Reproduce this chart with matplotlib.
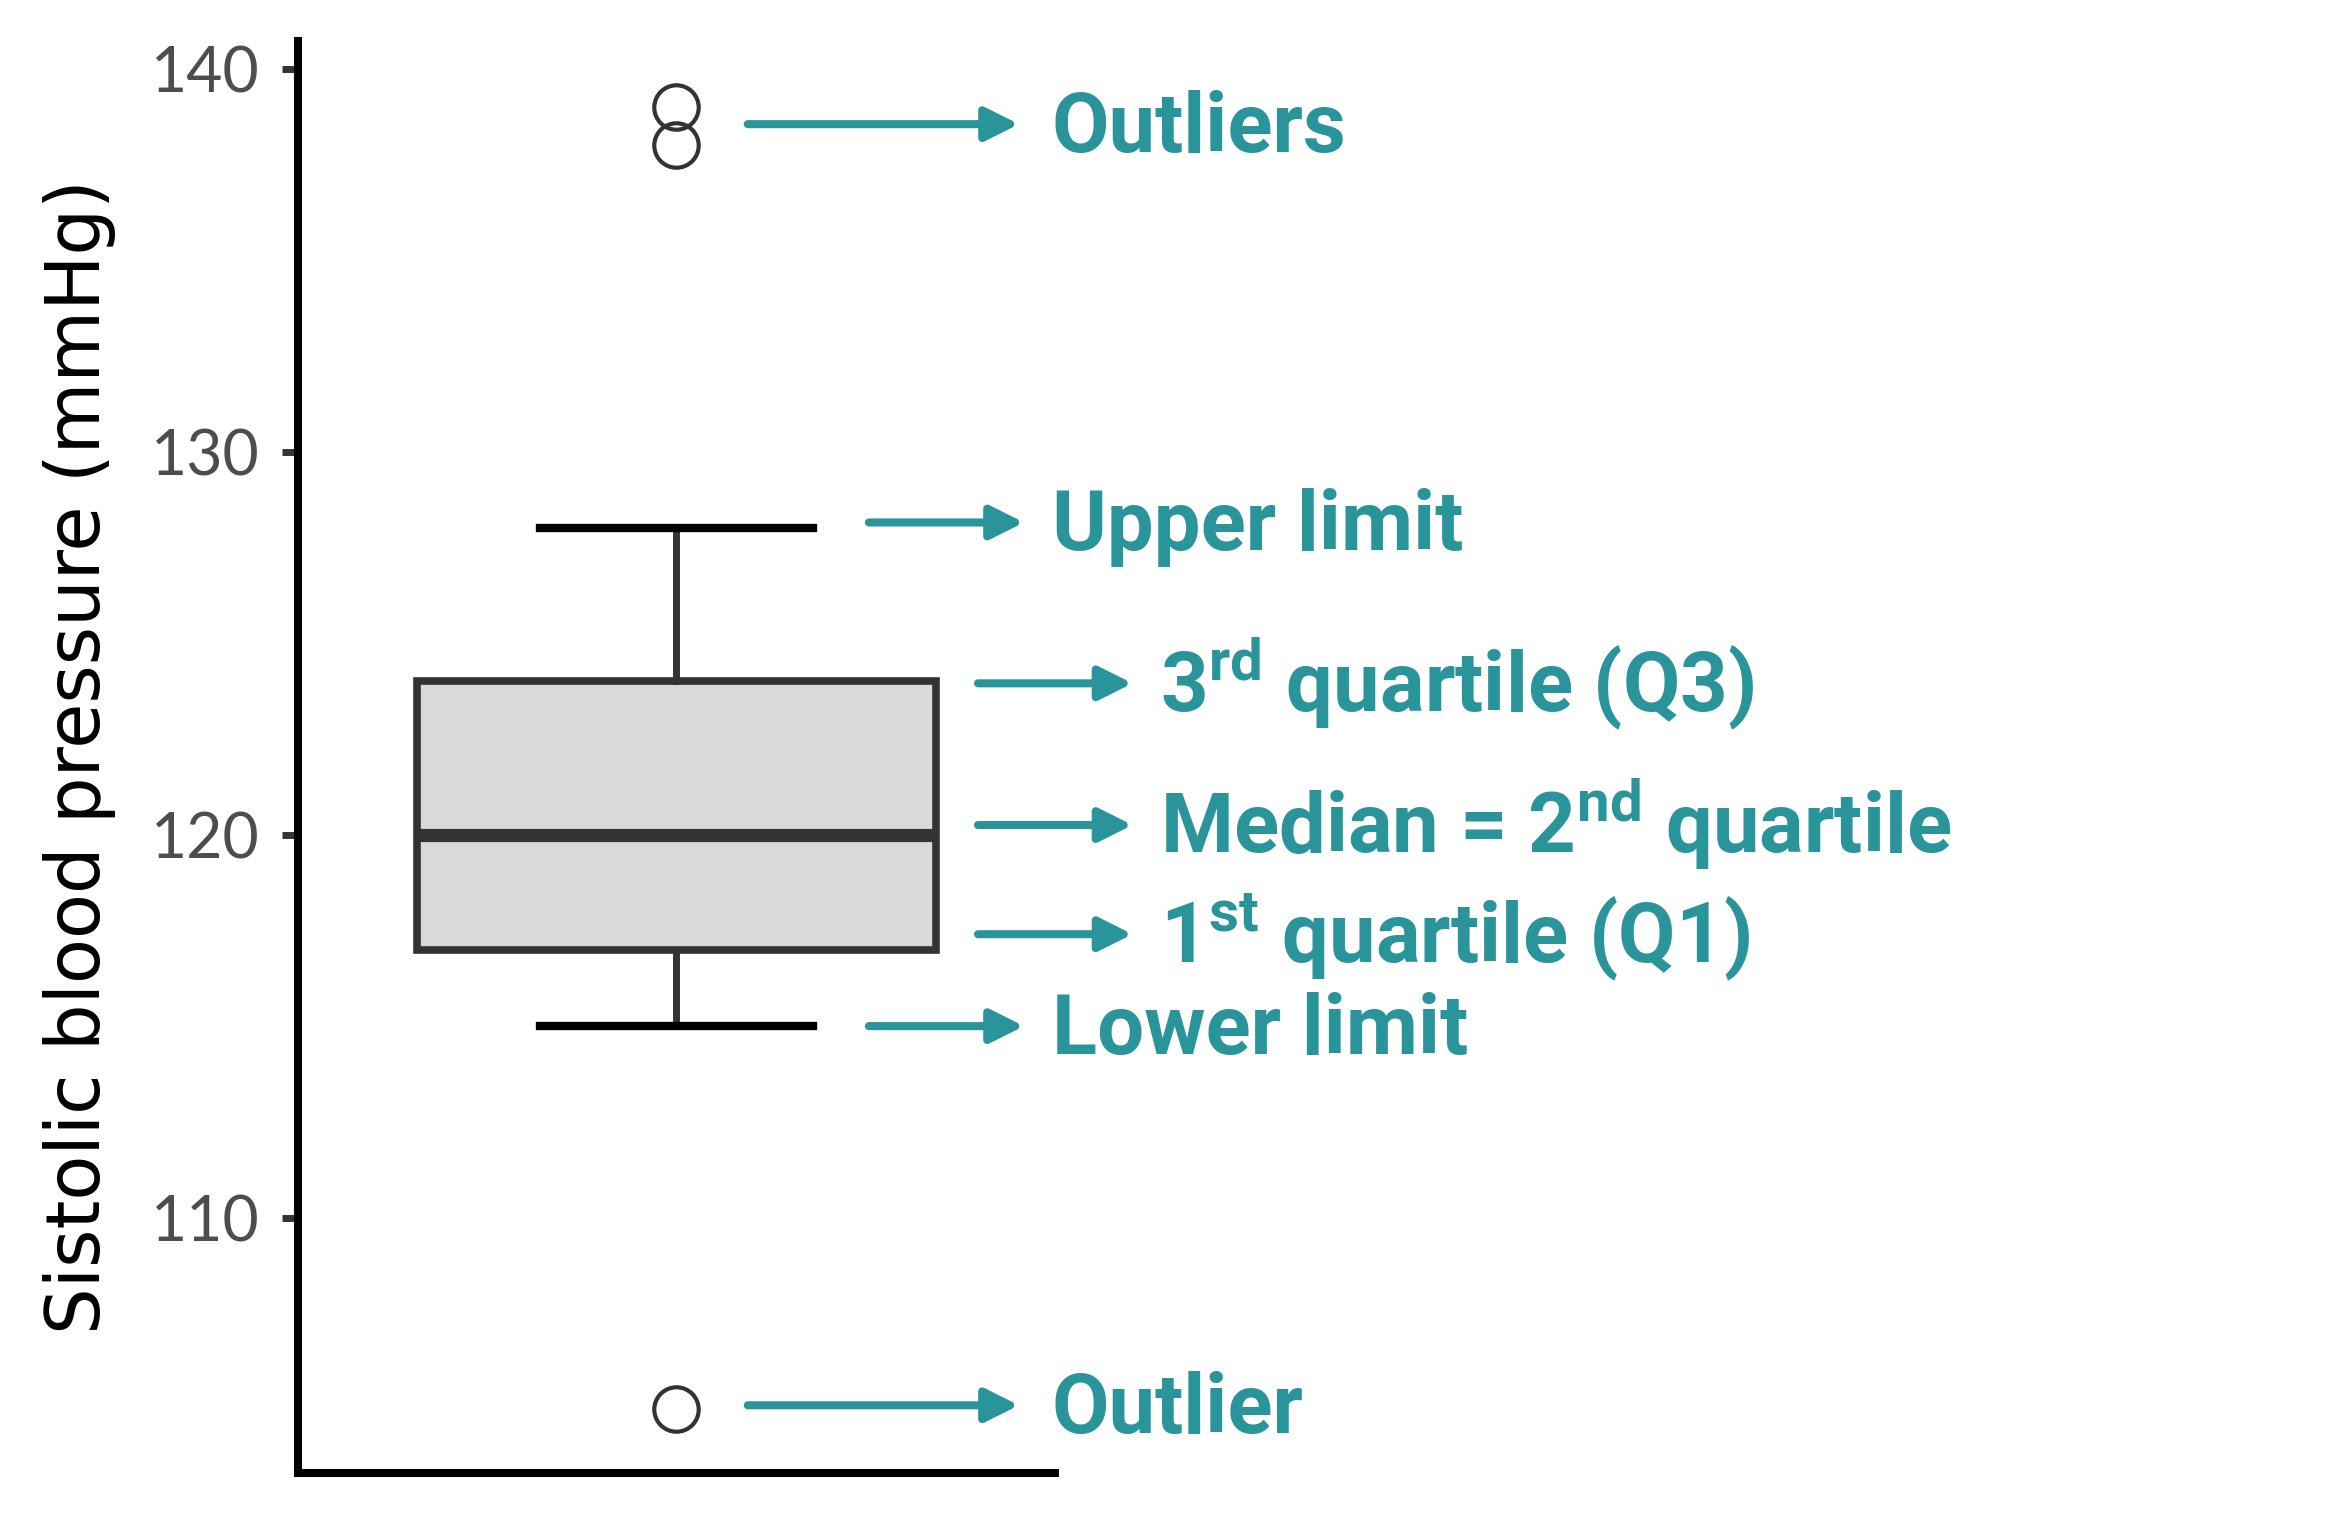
import matplotlib
matplotlib.use('Agg')
import matplotlib.pyplot as plt
from matplotlib import font_manager


def pick_font(names, weight='normal'):
    # first installed family from the list
    for name in names:
        try:
            font_manager.findfont(font_manager.FontProperties(family=name, weight=weight),
                                  fallback_to_default=False)
            return name
        except Exception:
            pass
    return 'DejaVu Sans'


# box statistics, systolic blood pressure (mmHg)
q1 = 117
median = 120
q3 = 124
lower_limit = 115
upper_limit = 128
outliers = [139, 138, 105]

yticks = [110, 120, 130, 140]
ylabel = 'Sistolic blood pressure (mmHg)'

# annotation texts
label_outliers = 'Outliers'
label_upper = 'Upper limit'
label_q3 = '3$^{\\mathrm{rd}}$ quartile (Q3)'
label_median = 'Median = 2$^{\\mathrm{nd}}$ quartile'
label_q1 = '1$^{\\mathrm{st}}$ quartile (Q1)'
label_lower = 'Lower limit'
label_outlier = 'Outlier'

teal = '#2a949b'
dark = '#333333'

tick_font = pick_font(['Lato', 'Roboto'])
note_font = pick_font(['Roboto', 'Lato'], 'bold')
plt.rcParams['mathtext.fontset'] = 'custom'
plt.rcParams['mathtext.rm'] = note_font + ':bold'
plt.rcParams['mathtext.it'] = note_font + ':bold'
plt.rcParams['mathtext.bf'] = note_font + ':bold'

fig = plt.figure(figsize=(23.37, 15.4), dpi=100)
ax = fig.add_axes([0.1275, 0.0437, 0.3239, 0.9294])

stats = [dict(med=median, q1=q1, q3=q3, whislo=lower_limit, whishi=upper_limit,
              fliers=outliers)]
ax.bxp(stats, positions=[0], widths=0.822, capwidths=0.432, patch_artist=True,
       boxprops=dict(facecolor='#d9d9d9', edgecolor=dark, linewidth=5.5),
       medianprops=dict(color=dark, linewidth=9.5, solid_capstyle='butt'),
       whiskerprops=dict(color=dark, linewidth=5),
       capprops=dict(color='black', linewidth=6),
       flierprops=dict(marker='o', markersize=32, markerfacecolor='none',
                       markeredgecolor=dark, markeredgewidth=3))

ax.set_xlim(-0.6, 0.6)
ax.set_ylim(103.34, 140.71)
ax.set_yticks(yticks)
ax.set_xticks([])
for side in ['top', 'right']:
    ax.spines[side].set_visible(False)
for side in ['left', 'bottom']:
    ax.spines[side].set_linewidth(5.8)
    ax.spines[side].set_color('black')
ax.tick_params(axis='y', length=11.5, width=5, color=dark, pad=16,
               labelsize=45, labelcolor='#4d4d4d')
for lab in ax.get_yticklabels():
    lab.set_fontfamily(tick_font)

ax.set_ylabel(ylabel, fontsize=53, family='DejaVu Sans', color='black')
ax.yaxis.set_label_coords(-0.241, 0.5)

# arrows + labels: text, value pointed at, nudge, arrow start/end, text x
notes = [
    (label_outliers, (outliers[0] + outliers[1]) / 2, 0.05, 0.113, 0.543, 0.595),
    (label_upper, upper_limit, 0.15, 0.305, 0.551, 0.595),
    (label_q3, q3, -0.05, 0.478, 0.723, 0.766),
    (label_median, median, 0.25, 0.478, 0.723, 0.766),
    (label_q1, q1, 0.4, 0.478, 0.723, 0.766),
    (label_lower, lower_limit, 0.0, 0.305, 0.551, 0.595),
    (label_outlier, outliers[2], 0.1, 0.113, 0.543, 0.595),
]
for text, y, dy, x0, x1, xt in notes:
    y = y + dy
    ax.annotate('', xy=(x1, y), xytext=(x0, y), annotation_clip=False,
                arrowprops=dict(arrowstyle='-|>,head_length=1.0,head_width=0.5',
                                color=teal, lw=5.8, shrinkA=0, shrinkB=0,
                                mutation_scale=20))
    ax.annotate(text, xy=(xt, y), xytext=(0, -20), textcoords='offset points',
                va='baseline', ha='left', fontsize=60, color=teal,
                family=note_font, fontweight='bold', annotation_clip=False)

fig.savefig('out.png', dpi=100)
